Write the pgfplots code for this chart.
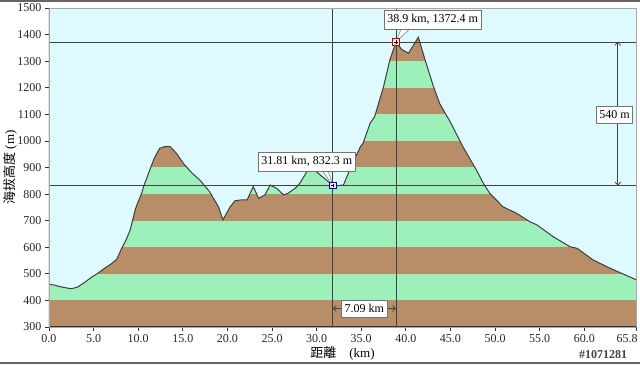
\documentclass[border=0pt]{standalone}
\usepackage{fontspec}
\setmainfont{Liberation Serif}
\newfontfamily\cjk{Noto Sans CJK TC}
\usepackage{pgfplots}
\pgfplotsset{compat=1.18}
\usepackage{pgfplotstable}
\usetikzlibrary{arrows.meta}
\definecolor{sbrown}{RGB}{183,142,103}
\definecolor{sgreen}{RGB}{158,240,186}
\definecolor{scyan}{RGB}{223,250,255}
\definecolor{sline}{RGB}{60,60,60}
\pgfplotstableread{
km elev
0.0 460
0.6 458
1.2 452
1.8 448
2.5 444
3.2 450
4.0 468
4.8 488
5.3 498
6.2 520
7.0 538
7.6 555
8.15 596
8.6 625
9.1 665
9.45 712
9.7 745
10.0 772
10.4 804
10.6 828
11.3 891
11.8 935
12.4 972
13.0 979
13.6 978
14.3 953
15.05 916
16.0 880
16.9 853
18.0 809
19.0 752
19.5 703
20.3 752
20.85 775
21.5 778
22.2 778
22.9 828
23.5 784
24.2 797
24.8 834
25.5 822
26.3 797
26.8 803
27.6 822
28.1 840
28.9 884
29.5 897
30.4 872
31.1 853
31.81 832.3
32.4 832
33.0 834
33.55 878
34.3 935
34.9 978
35.2 991
35.99 1066
36.5 1091
37.5 1204
38.2 1304
38.9 1372.4
39.5 1345
40.3 1330
41.4 1390
42.2 1300
43.1 1204
43.8 1140
45.0 1070
46.4 978
47.9 891
48.7 840
49.4 803
50.9 752
52.4 728
53.9 696
54.7 684
56.5 640
58.4 602
59.2 596
61.0 552
62.9 521
65.8 478
}\profile
\begin{document}
\begin{tikzpicture}
\begin{axis}[name=ax, scale only axis, width=587bp, height=319bp,
  xmin=0, xmax=65.8, ymin=300, ymax=1500,
  axis background/.style={fill=sgreen},
  axis on top,
  xtick={0,5,10,15,20,25,30,35,40,45,50,55,60},
  extra x ticks={65.8},
  extra x tick style={xticklabel style={/tikz/xshift=-9bp}},
  ytick={300,400,500,600,700,800,900,1000,1100,1200,1300,1400,1500},
  xticklabel style={/pgf/number format/fixed, /pgf/number format/fixed zerofill, /pgf/number format/precision=1},
  yticklabel style={/pgf/number format/1000 sep={}},
  /pgf/number format/assume math mode=true,
  tick label style={font=\fontsize{12bp}{14bp}\selectfont, text=black!85},
  tick align=outside, xtick pos=left, ytick pos=left,
  major tick length=4bp, tick style={black!80, line width=0.8bp},
  axis line style={draw=black!35, line width=0.8bp},
  xticklabel shift=0bp, yticklabel shift=0bp,
  clip=true]
% brown stripes
\addplot[draw=none, fill=sbrown] coordinates {(0,300) (65.8,300) (65.8,400) (0,400)} -- cycle;
\addplot[draw=none, fill=sbrown] coordinates {(0,500) (65.8,500) (65.8,600) (0,600)} -- cycle;
\addplot[draw=none, fill=sbrown] coordinates {(0,700) (65.8,700) (65.8,800) (0,800)} -- cycle;
\addplot[draw=none, fill=sbrown] coordinates {(0,900) (65.8,900) (65.8,1000) (0,1000)} -- cycle;
\addplot[draw=none, fill=sbrown] coordinates {(0,1100) (65.8,1100) (65.8,1200) (0,1200)} -- cycle;
\addplot[draw=none, fill=sbrown] coordinates {(0,1300) (65.8,1300) (65.8,1400) (0,1400)} -- cycle;
% sky above the profile
\addplot[draw=none, fill=scyan] table[x=km, y=elev] {\profile} -- (axis cs:65.8,1500) -- (axis cs:0,1500) -- cycle;
% profile line
\addplot[draw=sline, line width=1bp] table[x=km, y=elev] {\profile};
% reference lines
\addplot[draw=black!75, line width=0.7bp] coordinates {(0,1372.4) (65.8,1372.4)};
\addplot[draw=black!75, line width=0.7bp] coordinates {(0,832.3) (65.8,832.3)};
\addplot[draw=black!75, line width=0.7bp] coordinates {(31.81,300) (31.81,1500)};
\addplot[draw=black!75, line width=0.7bp] coordinates {(38.9,300) (38.9,1500)};
% measure arrows
\draw[black!75, line width=0.7bp, {Straight Barb[length=3bp,width=6bp]}-{Straight Barb[length=3bp,width=6bp]}] (axis cs:63.76,832.3) -- (axis cs:63.76,1372.4);
\draw[black!75, line width=0.7bp, {Straight Barb[length=3bp,width=6bp]}-{Straight Barb[length=3bp,width=6bp]}] (axis cs:31.81,370) -- (axis cs:38.9,370);
% callouts
\filldraw[draw=black!55, fill=white, line width=0.5bp] (axis cs:39.57,1430) -- (axis cs:38.9,1372.4) -- (axis cs:40.7,1430) -- cycle;
\filldraw[draw=black!55, fill=white, line width=0.5bp] (axis cs:30.38,900) -- (axis cs:31.81,832.3) -- (axis cs:31.17,900) -- cycle;
\node[draw=black!55, fill=white, line width=0.6bp, inner xsep=3bp, inner ysep=0pt, minimum height=19bp, font=\fontsize{12bp}{14bp}\selectfont] at (axis cs:43.0,1457) {38.9 km, 1372.4 m};
\node[draw=black!55, fill=white, line width=0.6bp, inner xsep=3bp, inner ysep=0pt, minimum height=19bp, font=\fontsize{12bp}{14bp}\selectfont] at (axis cs:28.9,923) {31.81 km, 832.3 m};
\node[draw=black!55, fill=white, line width=0.6bp, inner xsep=3bp, inner ysep=0pt, minimum height=17bp, font=\fontsize{12bp}{14bp}\selectfont] at (axis cs:63.4,1099) {540 m};
\node[draw=black!55, fill=white, line width=0.6bp, inner xsep=3bp, inner ysep=0pt, minimum height=17bp, font=\fontsize{12bp}{14bp}\selectfont] at (axis cs:35.34,369) {7.09 km};
% point markers
\addplot[only marks, mark=square*, mark size=3.2bp, mark options={draw=red!80!black, fill=pink!40, line width=0.7bp}] coordinates {(38.9,1372.4)};
\addplot[only marks, mark=square*, mark size=3.2bp, mark options={draw=blue!70!black, fill=blue!10, line width=0.7bp}] coordinates {(31.81,832.3)};
\addplot[only marks, mark=+, mark size=1.6bp, mark options={draw=black, line width=0.5bp}] coordinates {(38.9,1372.4) (31.81,832.3)};
% dark left/bottom axis
\draw[black!80, line width=1.2bp] (rel axis cs:0,1) -- (rel axis cs:0,0) -- (rel axis cs:1,0);
\end{axis}
\node[rotate=90, font=\fontsize{13bp}{15bp}\selectfont] at ([xshift=-39bp]ax.west) {{\cjk 海拔高度} (m)};
\node[font=\fontsize{13bp}{15bp}\selectfont] at ([yshift=-26bp]ax.south) {{\cjk 距離　}(km)};
\node[font=\bfseries\fontsize{12bp}{14bp}\selectfont, text=black!75] at ([xshift=-33bp, yshift=-28bp]ax.south east) {\#1071281};
\pgfresetboundingbox
\path[use as bounding box] ([xshift=-49bp, yshift=-38bp]ax.south west) rectangle ([xshift=4bp, yshift=8bp]ax.north east);
\draw[black!60, line width=2bp] ([xshift=-49bp, yshift=7bp]ax.north west) -- ([xshift=4bp, yshift=7bp]ax.north east);
\draw[black!60, line width=2bp] ([xshift=-49bp, yshift=-36bp]ax.south west) -- ([xshift=4bp, yshift=-36bp]ax.south east);
\end{tikzpicture}
\end{document}
